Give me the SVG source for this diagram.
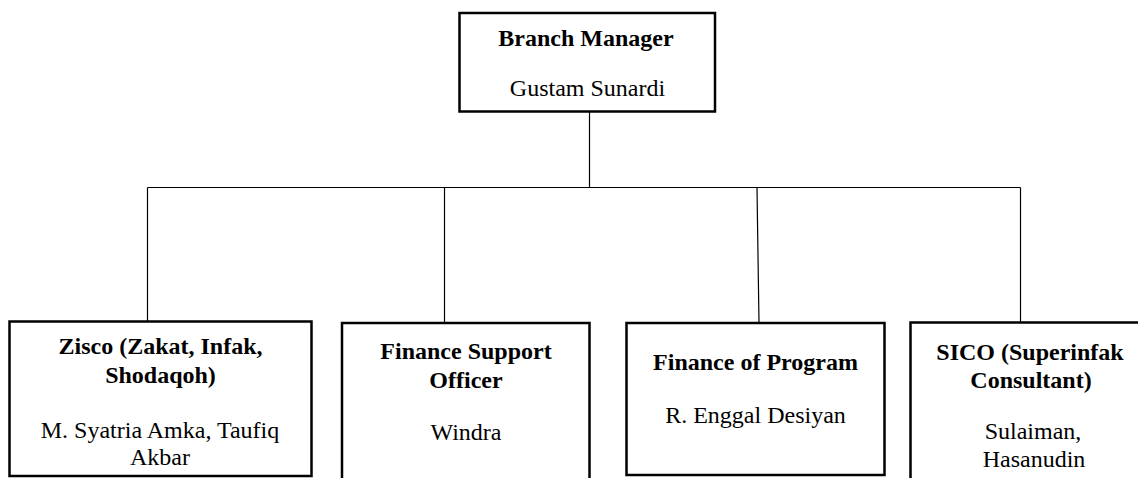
<svg xmlns="http://www.w3.org/2000/svg" width="1138" height="478" viewBox="0 0 1138 478">
<style>
.box{fill:#fff;stroke:#000;stroke-width:2.5}
.ln{stroke:#000;stroke-width:1.2;fill:none}
text{font-family:"Liberation Serif","Times New Roman",serif;font-size:24px;fill:#000;text-anchor:middle}
.b{font-weight:bold}
</style>
<rect width="1138" height="478" fill="#fff"/>
<g id="connectors">
<line class="ln" x1="589.5" y1="111.5" x2="589.5" y2="187.5"/>
<line class="ln" x1="147.5" y1="187.5" x2="1020.5" y2="187.5"/>
<line class="ln" x1="147.5" y1="187.5" x2="147.5" y2="321.5"/>
<line class="ln" x1="444.5" y1="187.5" x2="444.5" y2="323"/>
<line class="ln" x1="757" y1="187.5" x2="759" y2="323"/>
<line class="ln" x1="1020.5" y1="187.5" x2="1020.5" y2="322.5"/>
</g>
<g id="branch-manager">
<rect class="box" x="459.5" y="13" width="255.5" height="98.5"/>
<text class="b" x="586" y="46">Branch Manager</text>
<text x="587.5" y="96">Gustam Sunardi</text>
</g>
<g id="zisco">
<rect class="box" x="9.5" y="321.5" width="302" height="154.5"/>
<text class="b" x="160.5" y="354">Zisco (Zakat, Infak,</text>
<text class="b" x="160.5" y="383">Shodaqoh)</text>
<text x="160" y="438">M. Syatria Amka, Taufiq</text>
<text x="160" y="465">Akbar</text>
</g>
<g id="finance-support">
<rect class="box" x="342" y="323" width="247.5" height="160"/>
<text class="b" x="466" y="359">Finance Support</text>
<text class="b" x="466" y="388">Officer</text>
<text x="466" y="440">Windra</text>
</g>
<g id="finance-program">
<rect class="box" x="626.5" y="323" width="258" height="152"/>
<text class="b" x="755.5" y="370">Finance of Program</text>
<text x="755.5" y="422.5">R. Enggal Desiyan</text>
</g>
<g id="sico">
<rect class="box" x="910.5" y="322.5" width="240" height="160"/>
<text class="b" x="1030" y="360">SICO (Superinfak</text>
<text class="b" x="1031" y="388">Consultant)</text>
<text x="1033" y="439">Sulaiman,</text>
<text x="1034" y="466.5">Hasanudin</text>
</g>
</svg>
